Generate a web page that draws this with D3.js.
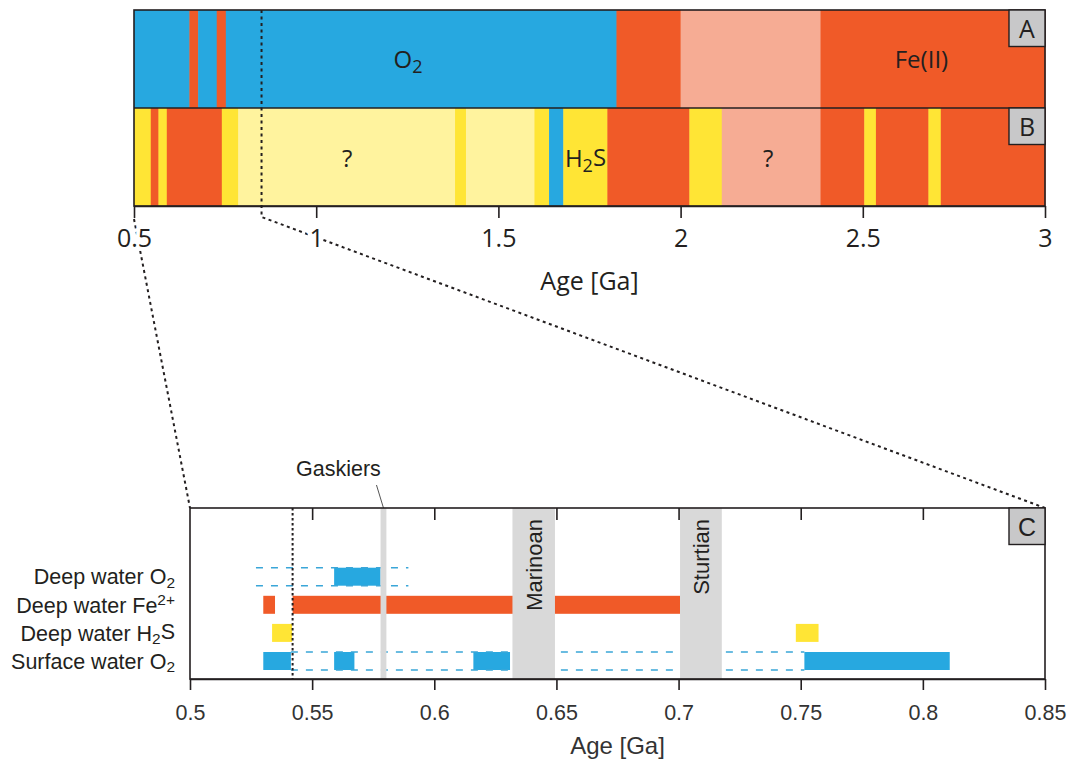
<!DOCTYPE html>
<html>
<head>
<meta charset="utf-8">
<script src="https://cdn.jsdelivr.net/npm/d3@7"></script>
<style>
  body { margin: 0; background: #fff; }
</style>
</head>
<body>
<svg id="chart" width="1071" height="763"></svg>
<script>
// ---- data (ages in Ga) ----
// panel A: boundaries and ocean state between them
const aBreaks = [0.5, 0.652, 0.676, 0.727, 0.752, 1.824, 2.0, 2.384, 3.0]
const aStates = ['O2', 'Fe', 'O2', 'Fe', 'O2', 'Fe', 'FeQ', 'Fe']
// panel B
const bBreaks = [0.5, 0.546, 0.567, 0.590, 0.741, 0.786, 1.381, 1.411, 1.599, 1.639,
                 1.678, 1.799, 2.024, 2.113, 2.384, 2.504, 2.536, 2.680, 2.714, 3.0]
const bStates = ['H2S', 'Fe', 'H2S', 'Fe', 'H2S', 'H2SQ', 'H2S', 'H2SQ', 'H2S', 'O2',
                 'H2S', 'Fe', 'H2S', 'FeQ', 'Fe', 'H2S', 'Fe', 'H2S', 'Fe']
const topTicks = [0.5, 1, 1.5, 2, 2.5, 3]
// in-panel labels of the top panel
const aLabelAge = [1.252, 2.661]
const aLabelText = ['O2', 'Fe(II)']
const bLabelAge = [1.085, 1.739, 2.24]
const bLabelText = ['?', 'H2S', '?']

// panel C
const rowKeys = ['dO2', 'dFe', 'dH2S', 'sO2']
const barRow   = ['dO2', 'dFe', 'dFe', 'dH2S', 'dH2S', 'sO2', 'sO2', 'sO2', 'sO2']
const barStart = [0.559, 0.530, 0.542, 0.5336, 0.748, 0.530, 0.559, 0.616, 0.7515]
const barEnd   = [0.578, 0.5348, 0.7006, 0.5418, 0.7573, 0.5413, 0.5673, 0.631, 0.811]
const barState = ['O2', 'Fe', 'Fe', 'H2S', 'H2S', 'O2', 'O2', 'O2', 'O2']
const dashRow   = ['dO2', 'sO2']
const dashStart = [0.527, 0.5413]
const dashEnd   = [0.5894, 0.7515]
const glacName  = ['Gaskiers', 'Marinoan', 'Sturtian']
const glacStart = [0.578, 0.632, 0.7006]
const glacEnd   = [0.5804, 0.6494, 0.7177]
const cambrianBase = 0.542
const zoomFrom = 0.5, zoomTo = 0.85
const cTicks = [0.5, 0.55, 0.6, 0.65, 0.7, 0.75, 0.8, 0.85]

const color = d3.scaleOrdinal()
  .domain(['O2', 'Fe', 'FeQ', 'H2S', 'H2SQ'])
  .range(['#27a8e0', '#f05a28', '#f6ac94', '#ffe535', '#fff39e'])

const INK = '#231f20'
const MYRIAD = '"Open Sans", "Noto Sans", sans-serif'
const ARIAL = '"Liberation Sans", Arial, sans-serif'

const svg = d3.select('#chart')

// ---- top panel (A + B) ----
const xTop = d3.scaleLinear().domain([0.5, 3]).range([134, 1045])
const aY = [10, 108], bY = [108, 206]

function strip(breaks, states, y0, y1) {
  const segs = d3.pairs(breaks).map(([s, e], i) => ({s, e, state: states[i]}))
  svg.append('g').selectAll('rect')
    .data(segs)
    .join('rect')
    .attr('x', d => xTop(d.s))
    .attr('width', d => xTop(d.e) - xTop(d.s) + 0.5)
    .attr('y', y0)
    .attr('height', y1 - y0)
    .attr('fill', d => color(d.state))
}
strip(aBreaks, aStates, aY[0], aY[1])
strip(bBreaks, bStates, bY[0], bY[1])

function chem(sel, txt, subSize) {
  // draws "O2", "H2S" etc with subscript digits
  const parts = txt.split(/(\d)/).filter(p => p !== '')
  let shifted = false
  parts.forEach(p => {
    if (/\d/.test(p)) {
      sel.append('tspan').attr('font-size', subSize).attr('dy', '0.25em').text(p)
      shifted = true
    } else {
      sel.append('tspan').attr('dy', shifted ? '-0.25em' : null).text(p)
      shifted = false
    }
  })
}

aLabelAge.forEach((a, i) => {
  const t = svg.append('text')
    .attr('x', xTop(a)).attr('y', 68)
    .attr('text-anchor', 'middle')
    .attr('font-family', MYRIAD).attr('font-size', 24).attr('fill', INK)
  chem(t, aLabelText[i], '0.75em')
})
bLabelAge.forEach((a, i) => {
  const t = svg.append('text')
    .attr('x', xTop(a)).attr('y', 167)
    .attr('text-anchor', 'middle')
    .attr('font-family', MYRIAD).attr('font-size', 24).attr('fill', INK)
  chem(t, bLabelText[i], '0.75em')
})

// frames
svg.append('rect').attr('x', xTop(0.5)).attr('y', aY[0])
  .attr('width', xTop(3) - xTop(0.5)).attr('height', bY[1] - aY[0])
  .attr('fill', 'none').attr('stroke', INK).attr('stroke-width', 1.6)
svg.append('line').attr('x1', xTop(0.5)).attr('x2', xTop(3))
  .attr('y1', aY[1]).attr('y2', aY[1]).attr('stroke', INK).attr('stroke-width', 1.6)

function cornerBox(x1, y0, letter, font, size) {
  svg.append('rect').attr('x', x1 - 36).attr('y', y0).attr('width', 36).attr('height', 36.5)
    .attr('fill', '#c8c8c9').attr('stroke', INK).attr('stroke-width', 1.4)
  svg.append('text').attr('x', x1 - 18).attr('y', y0 + 18.5)
    .attr('dy', '0.36em').attr('text-anchor', 'middle')
    .attr('font-family', font).attr('font-size', size).attr('fill', INK).text(letter)
}
cornerBox(xTop(3), aY[0], 'A', MYRIAD, 25)
cornerBox(xTop(3), bY[0], 'B', MYRIAD, 25)

// ---- panel C ----
const xC = d3.scaleLinear().domain([zoomFrom, zoomTo]).range([190, 1045])
const cTop = 508, cBot = 679
const rowY = d3.scalePoint().domain(rowKeys).range([576.7, 661])
const barH = 18

// zoom connector lines (drawn before axes so label halos cut them)
const dotted = svg.append('g').attr('fill', 'none').attr('stroke', INK)
  .attr('stroke-width', 2).attr('stroke-dasharray', '3,3.5')
dotted.append('path')
  .attr('d', d3.line()([[xTop(zoomFrom), 219], [xC(zoomFrom), cTop]]))
dotted.append('path')
  .attr('d', d3.line()([[xTop(zoomTo), aY[0]], [xTop(zoomTo), 217], [xC(zoomTo), cTop]]))

const bars = barRow.map((r, i) => ({r, s: barStart[i], e: barEnd[i], state: barState[i]}))
svg.append('g').selectAll('rect')
  .data(bars)
  .join('rect')
  .attr('x', d => xC(d.s))
  .attr('width', d => xC(d.e) - xC(d.s))
  .attr('y', d => rowY(d.r) - barH / 2)
  .attr('height', barH)
  .attr('fill', d => color(d.state))

const dashes = dashRow.flatMap((r, i) => [-1, 1].map(side => ({r, side, s: dashStart[i], e: dashEnd[i]})))
svg.append('g').selectAll('line')
  .data(dashes)
  .join('line')
  .attr('x1', d => xC(d.s)).attr('x2', d => xC(d.e))
  .attr('y1', d => rowY(d.r) + d.side * barH / 2)
  .attr('y2', d => rowY(d.r) + d.side * barH / 2)
  .attr('stroke', '#3aa6d8').attr('stroke-width', 1.6)
  .attr('stroke-dasharray', '7,8')

// glaciations
const glac = glacName.map((n, i) => ({n, s: glacStart[i], e: glacEnd[i]}))
svg.append('g').selectAll('rect')
  .data(glac)
  .join('rect')
  .attr('x', d => xC(d.s))
  .attr('width', d => xC(d.e) - xC(d.s))
  .attr('y', cTop).attr('height', cBot - cTop)
  .attr('fill', '#d9d9d9')
svg.append('g').selectAll('text')
  .data(glac.slice(1))
  .join('text')
  .attr('transform', d => `translate(${(xC(d.s) + xC(d.e)) / 2},${cTop + 11}) rotate(-90)`)
  .attr('dy', '0.36em')
  .attr('text-anchor', 'end')
  .attr('font-family', ARIAL).attr('font-size', 22).attr('fill', INK)
  .text(d => d.n)
const gask = glac[0]
const gx = (xC(gask.s) + xC(gask.e)) / 2
svg.append('line').attr('x1', gx - 7).attr('y1', 485).attr('x2', gx).attr('y2', cTop)
  .attr('stroke', '#555').attr('stroke-width', 1)
svg.append('text').attr('x', gx - 45).attr('y', 476)
  .attr('text-anchor', 'middle')
  .attr('font-family', ARIAL).attr('font-size', 21.5).attr('fill', INK).text(gask.n)

// Precambrian-Cambrian boundary
svg.append('line').attr('x1', xC(cambrianBase)).attr('x2', xC(cambrianBase))
  .attr('y1', cTop).attr('y2', cBot)
  .attr('stroke', INK).attr('stroke-width', 2).attr('stroke-dasharray', '2.5,2.5')

// frame of C
svg.append('rect').attr('x', xC(zoomFrom)).attr('y', cTop)
  .attr('width', xC(zoomTo) - xC(zoomFrom)).attr('height', cBot - cTop)
  .attr('fill', 'none').attr('stroke', INK).attr('stroke-width', 1.6)
cornerBox(xC(zoomTo), cTop, 'C', ARIAL, 25)

// row labels
const rowLabel = svg.append('g').attr('font-family', ARIAL).attr('font-size', 21.5)
  .attr('fill', INK).attr('text-anchor', 'end')
function rowText(key, base, small, up) {
  const t = rowLabel.append('text').attr('x', 175).attr('y', rowY(key)).attr('dy', '0.36em')
  const parts = base.split('|')
  t.append('tspan').text(parts[0])
  t.append('tspan').attr('font-size', '0.72em').attr('dy', up ? '-0.5em' : '0.2em').text(small)
  if (parts[1]) t.append('tspan').attr('dy', up ? '0.5em' : '-0.2em').text(parts[1])
}
rowText('dO2', 'Deep water O', '2', false)
rowText('dFe', 'Deep water Fe', '2+', true)
rowText('dH2S', 'Deep water H|S', '2', false)
rowText('sO2', 'Surface water O', '2', false)

// ---- axes ----
const topAxis = svg.append('g')
  .attr('transform', `translate(0,${bY[1]})`)
  .call(d3.axisBottom(xTop).tickValues(topTicks).tickFormat(d => d)
    .tickSize(12).tickSizeOuter(0).tickPadding(11))
topAxis.select('.domain').attr('stroke', INK).attr('stroke-width', 1.6)
topAxis.selectAll('.tick line').attr('stroke', INK).attr('stroke-width', 1.6)
topAxis.selectAll('.tick text')
  .attr('font-family', MYRIAD).attr('font-size', 25).attr('fill', INK)
  .attr('stroke', '#fff').attr('stroke-width', 8).attr('paint-order', 'stroke')

svg.append('text').attr('x', (xTop(0.5) + xTop(3)) / 2).attr('y', 290)
  .attr('text-anchor', 'middle').attr('font-family', MYRIAD).attr('font-size', 25)
  .attr('fill', INK).text('Age [Ga]')

const cAxis = svg.append('g')
  .attr('transform', `translate(0,${cBot})`)
  .call(d3.axisBottom(xC).tickValues(cTicks).tickFormat(d3.format('.2~f'))
    .tickSize(11).tickSizeOuter(0).tickPadding(15))
cAxis.select('.domain').attr('stroke', INK).attr('stroke-width', 1.6)
cAxis.selectAll('.tick line').attr('stroke', INK).attr('stroke-width', 1.6)
cAxis.selectAll('.tick text').attr('font-family', ARIAL).attr('font-size', 21.5).attr('fill', '#333')

const cAxisTop = svg.append('g')
  .attr('transform', `translate(0,${cTop})`)
  .call(d3.axisTop(xC).tickValues(cTicks.slice(1, -1)).tickFormat('')
    .tickSize(-12).tickSizeOuter(0))
cAxisTop.select('.domain').remove()
cAxisTop.selectAll('.tick line').attr('stroke', INK).attr('stroke-width', 1.6)

svg.append('text').attr('x', (xC(zoomFrom) + xC(zoomTo)) / 2).attr('y', 754)
  .attr('text-anchor', 'middle').attr('font-family', ARIAL).attr('font-size', 24)
  .attr('fill', '#333').text('Age [Ga]')
</script>
</body>
</html>
